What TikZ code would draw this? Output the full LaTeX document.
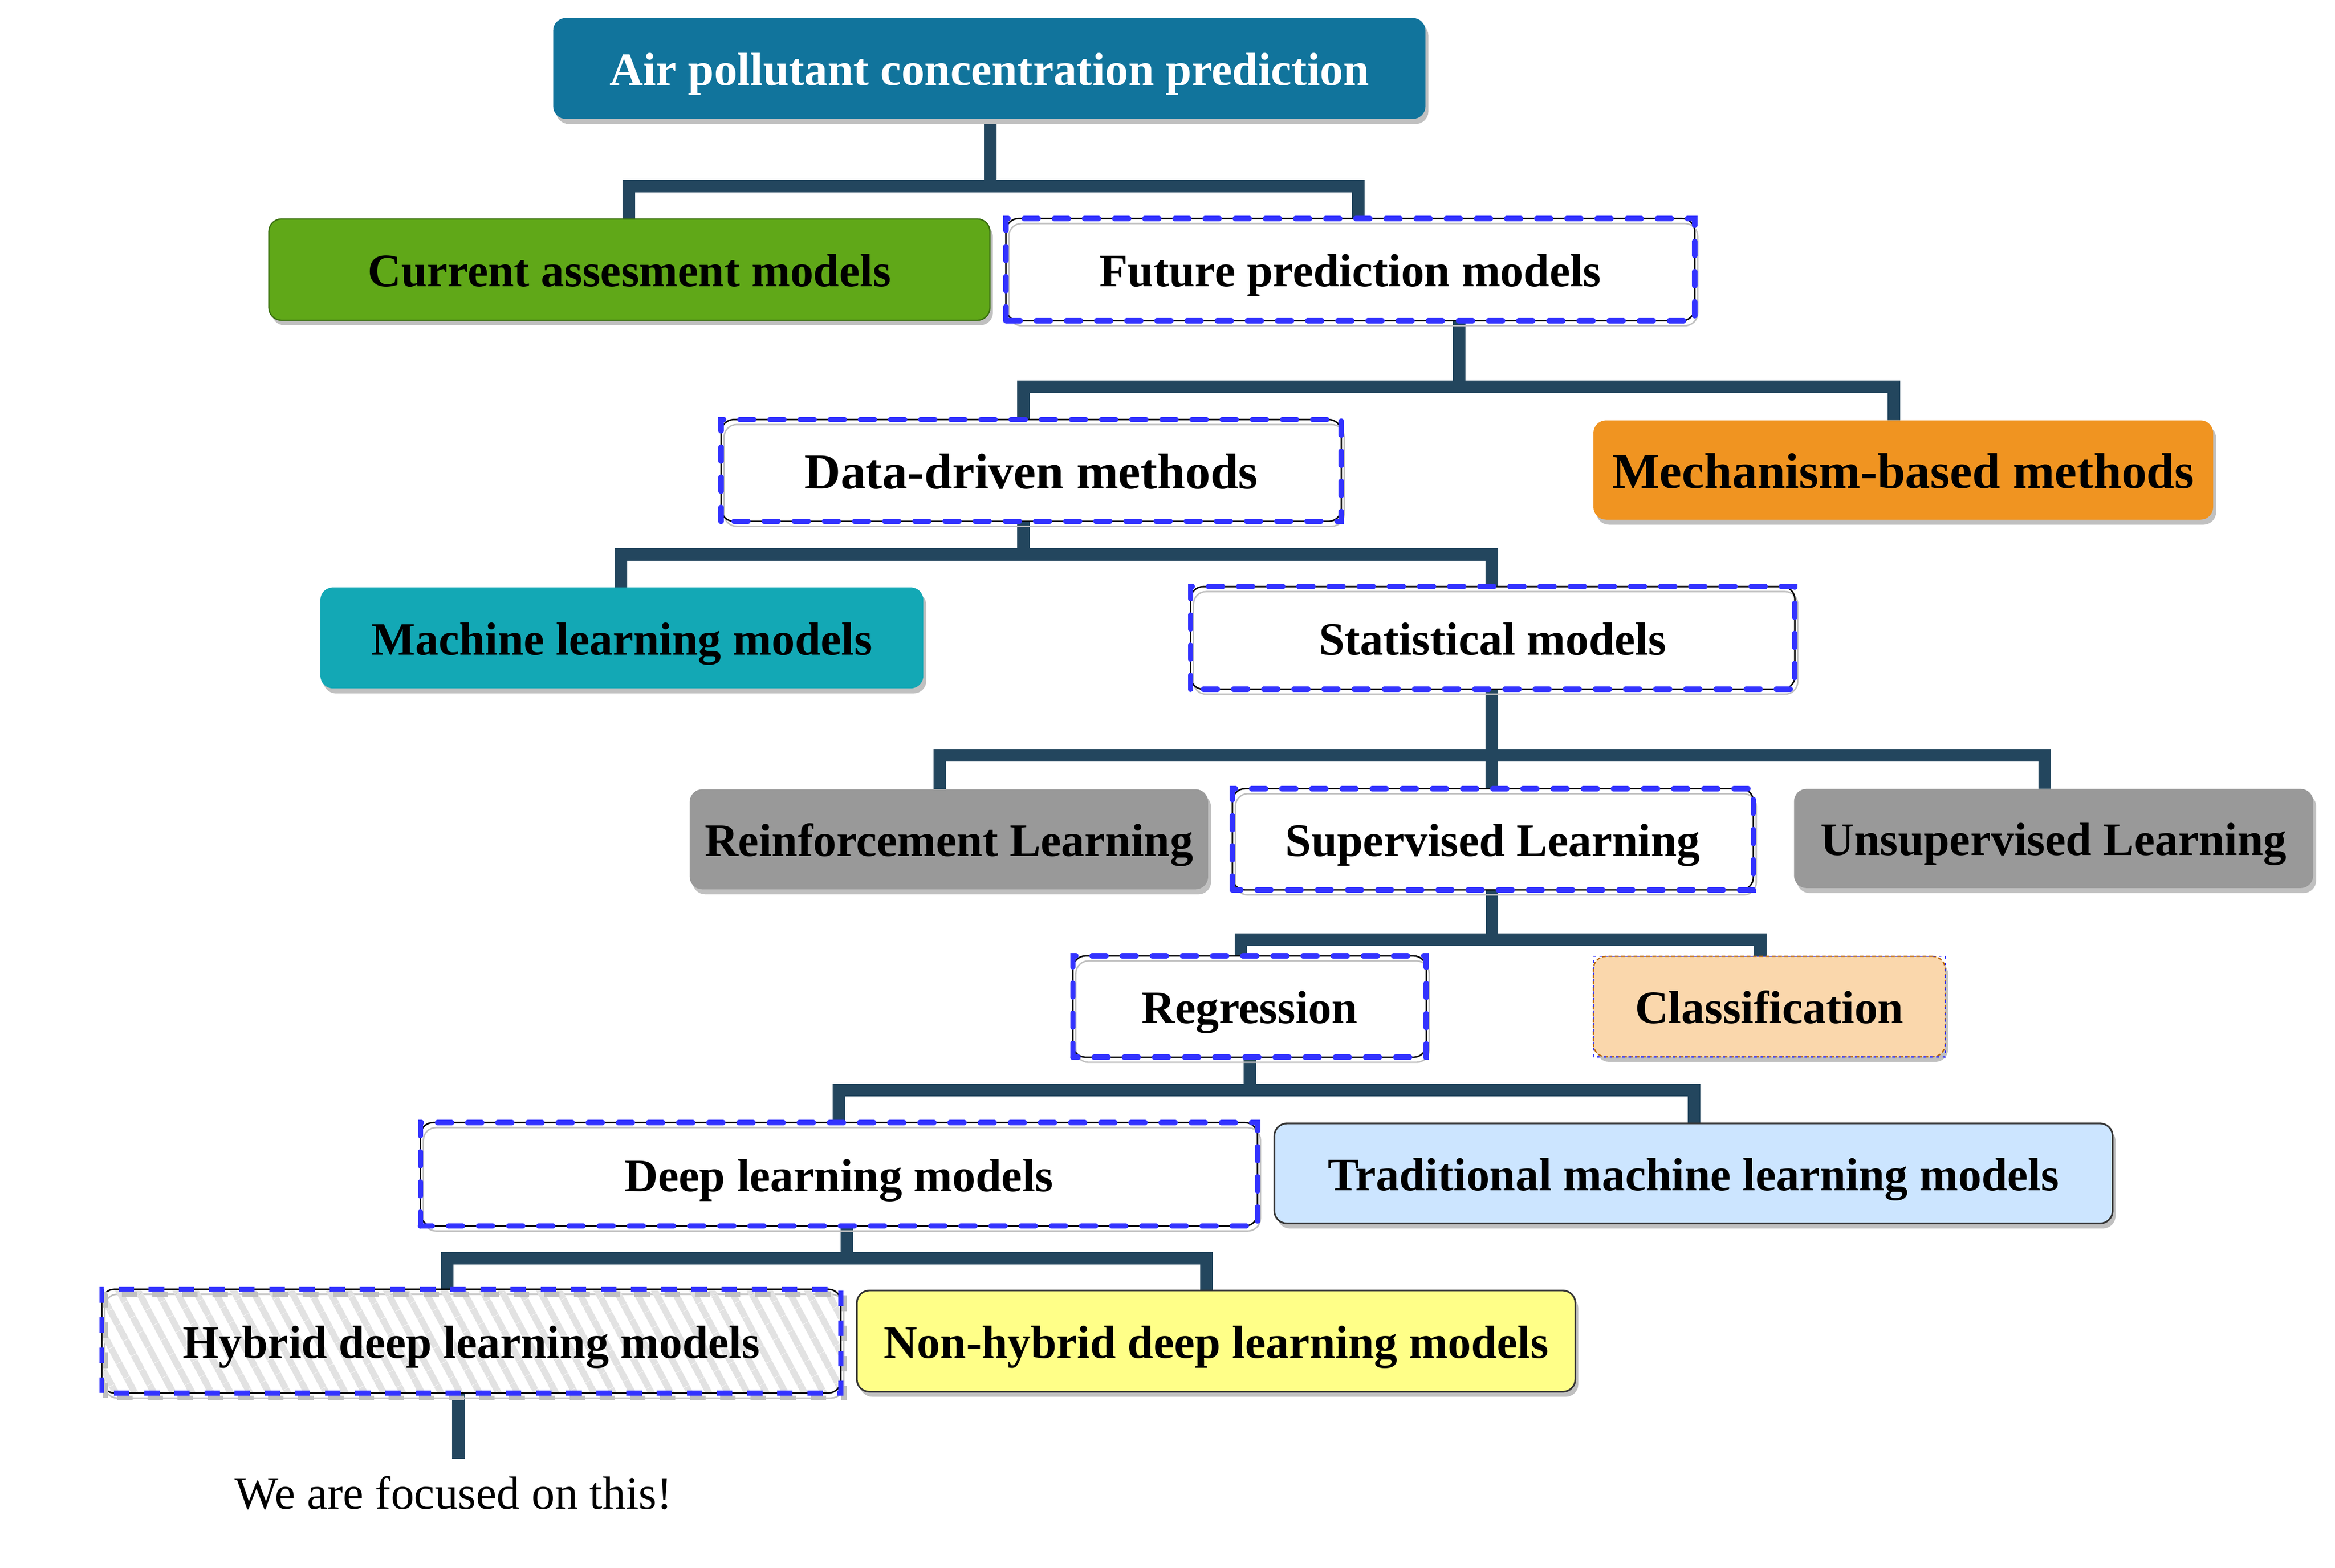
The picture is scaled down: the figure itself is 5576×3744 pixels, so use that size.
\documentclass[tikz,border=0pt]{standalone}
\usepackage{fontspec}
\setmainfont{Liberation Serif}
\usetikzlibrary{backgrounds,patterns.meta}
\definecolor{airblue}{RGB}{17,116,156}
\definecolor{curgreen}{RGB}{96,168,24}
\definecolor{curgreenb}{RGB}{58,112,16}
\definecolor{mechorange}{RGB}{240,148,33}
\definecolor{mlteal}{RGB}{19,168,181}
\definecolor{midgray}{RGB}{153,153,153}
\definecolor{peach}{RGB}{250,215,172}
\definecolor{peachb}{RGB}{184,101,10}
\definecolor{lightblue}{RGB}{204,229,255}
\definecolor{paleyellow}{RGB}{255,255,136}
\definecolor{darkb}{RGB}{54,54,54}
\definecolor{conncol}{RGB}{35,70,94}
\definecolor{dashblue}{RGB}{51,51,255}
\definecolor{shgray}{RGB}{192,192,192}
\definecolor{hatchgray}{RGB}{226,226,226}
\begin{document}
\begin{tikzpicture}[x=0.1pt,y=-0.1pt,
  nodebase/.style={rectangle, rounded corners=3pt, inner sep=0pt, outer sep=0pt,
    font=\fontsize{11.1pt}{13pt}\selectfont\bfseries, text height=8.1pt, text depth=0pt},
  bigtext/.style={font=\fontsize{12pt}{14pt}\selectfont\bfseries, text height=8.7pt},
  filledbox/.style={nodebase, preaction={fill=shgray, transform canvas={shift={(0.7pt,-1.2pt)}}}},
  whitebox/.style={nodebase, draw=black, line width=0.35pt,
    preaction={draw=shgray, line width=0.35pt, transform canvas={shift={(0.7pt,-1.2pt)}}}},
  conn/.style={draw=conncol, line width=3pt},
  bluedash/.style={draw=dashblue, line width=1.3pt, line cap=round, dash pattern=on 3.3pt off 3.9pt},
  plaintext/.style={font=\fontsize{11.1pt}{13pt}\selectfont, inner sep=0pt}
]
\useasboundingbox (0,0) rectangle (5576,3744);

% nodes
\node[filledbox, fill=airblue, text=white, minimum width=208.3pt, minimum height=24.1pt] (air) at (2362.5,163.5) {Air pollutant concentration prediction};
\node[filledbox, fill=curgreen, draw=curgreenb, line width=0.3pt, minimum width=172.2pt, minimum height=24.2pt] (cur) at (1503,644) {Current assesment models};
\node[whitebox, minimum width=164.5pt, minimum height=24.4pt] (fut) at (3224.5,644) {Future prediction models};
\node[whitebox, bigtext, minimum width=148.1pt, minimum height=24.3pt] (data) at (2462.5,1123.5) {Data-driven methods};
\node[filledbox, bigtext, fill=mechorange, minimum width=148pt, minimum height=23.7pt] (mech) at (4545,1122.5) {Mechanism-based methods};
\node[filledbox, fill=mlteal, minimum width=144pt, minimum height=24.1pt] (ml) at (1485,1523.5) {Machine learning models};
\node[whitebox, minimum width=144.3pt, minimum height=24.5pt] (stat) at (3564.5,1523.5) {Statistical models};
\node[filledbox, fill=midgray, minimum width=123.8pt, minimum height=23.9pt] (reinf) at (2266,2004.5) {Reinforcement Learning};
\node[whitebox, minimum width=124.4pt, minimum height=24.2pt] (sup) at (3565,2004.5) {Supervised Learning};
\node[filledbox, fill=midgray, minimum width=124pt, minimum height=23.7pt] (unsup) at (4904,2002.5) {Unsupervised Learning};
\node[whitebox, minimum width=84.4pt, minimum height=24.2pt] (reg) at (2984,2404) {Regression};
\node[filledbox, fill=peach, draw=peachb, line width=0.3pt, dash pattern=on 0.9pt off 0.6pt, minimum width=84pt, minimum height=24pt] (cls) at (4225,2404) {Classification};
\node[whitebox, minimum width=199.9pt, minimum height=24.7pt] (deep) at (2003.5,2804.5) {Deep learning models};
\node[filledbox, fill=lightblue, draw=darkb, line width=0.4pt, minimum width=200.2pt, minimum height=23.9pt] (trad) at (4044,2802.5) {Traditional machine learning models};
\node[whitebox, pattern={Lines[angle=-62,distance=4pt,line width=1.6pt]}, pattern color=hatchgray, minimum width=176.5pt, minimum height=24.8pt] (hyb) at (1125.5,3203) {Hybrid deep learning models};
\node[filledbox, fill=paleyellow, draw=darkb, line width=0.4pt, minimum width=171.6pt, minimum height=24.2pt] (nonhyb) at (2904,3203) {Non-hybrid deep learning models};
\node[plaintext, anchor=base] (focus) at (1083,3604) {We are focused on this!};

% dashed highlight frames
\foreach \n in {fut,data,stat,sup,reg,deep}
  \draw[bluedash] (\n.south west) rectangle (\n.north east);
\draw[draw=shgray, line width=1.2pt, dash pattern=on 3.7pt off 3.5pt, transform canvas={shift={(0.8pt,-1.2pt)}}] (hyb.south west) rectangle (hyb.north east);
\draw[draw=dashblue, line width=1.2pt, dash pattern=on 3.7pt off 3.5pt] (hyb.south west) rectangle (hyb.north east);
\draw[draw=dashblue, line width=0.3pt, dash pattern=on 0.6pt off 0.9pt] (cls.south west) rectangle (cls.north east);

% connectors
\begin{pgfonlayer}{background}
\coordinate (f1) at (2365,444);
\coordinate (f2) at (3484,924);
\coordinate (f3) at (2444,1324);
\coordinate (f4) at (3562,1804);
\coordinate (f5) at (3563,2244);
\coordinate (f6) at (2985,2603);
\coordinate (f7) at (2022,3005);
\coordinate (t1) at (1095,3484);

\draw[conn] (air.south -| f1) -- (f1);
\draw[conn] (f1) -| ([xshift=-0.1pt]cur.north);
\draw[conn] (f1) -| ([xshift=1.95pt]fut.north);

\draw[conn] (fut.south -| f2) -- (f2);
\draw[conn] (f2) -| ([xshift=-1.85pt]data.north);
\draw[conn] (f2) -| ([xshift=-2.2pt]mech.north);

\draw[conn] (data.south -| f3) -- (f3);
\draw[conn] (f3) -| ([xshift=-0.2pt]ml.north);
\draw[conn] (f3) -| ([xshift=-0.25pt]stat.north);

\draw[conn] (stat.south -| f4) -- (f4);
\draw[conn] (f4) -| ([xshift=-2.2pt]reinf.north);
\draw[conn] (f4) -| ([xshift=-0.3pt]sup.north);
\draw[conn] (f4) -| ([xshift=-2.1pt]unsup.north);

\draw[conn] (sup.south -| f5) -- (f5);
\draw[conn] (f5) -| ([xshift=-2.1pt]reg.north);
\draw[conn] (f5) -| ([xshift=-2.1pt]cls.north);

\draw[conn] (reg.south -| f6) -- (f6);
\draw[conn] (f6) -| (deep.north);
\draw[conn] (f6) -| ([xshift=0.1pt]trad.north);

\draw[conn] (deep.south -| f7) -- (f7);
\draw[conn] (f7) -| ([xshift=-5.75pt]hyb.north);
\draw[conn] (f7) -| ([xshift=-2.3pt]nonhyb.north);

\draw[conn] (hyb.south -| t1) -- (t1);
\end{pgfonlayer}
\end{tikzpicture}
\end{document}
